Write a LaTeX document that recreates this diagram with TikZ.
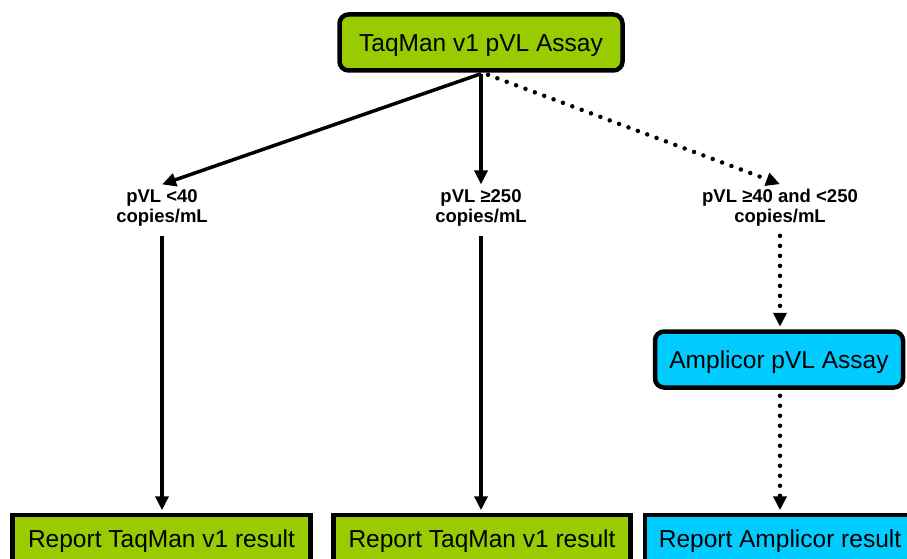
\documentclass[tikz,border=0pt]{standalone}
\usepackage{fontspec}
\setmainfont{Liberation Sans}
\usetikzlibrary{arrows.meta}
\definecolor{tgreen}{HTML}{99CC00}
\definecolor{tcyan}{HTML}{00CCFF}
\begin{document}
\begin{tikzpicture}[x=1pt,y=-1pt,
 rbox/.style={draw=black,line width=4.5pt,rounded corners=9pt,minimum height=56pt,inner sep=0pt,text height=17.5pt,text depth=0pt,font=\fontsize{24.5}{28}\selectfont},
 sbox/.style={draw=black,line width=4.5pt,minimum height=47pt,inner sep=0pt,text height=17.5pt,text depth=0pt,font=\fontsize{24.5}{28}\selectfont},
 lbl/.style={align=center,font=\bfseries\fontsize{18.5}{20}\selectfont,inner sep=0pt},
 arr/.style={line width=3.5pt,-{Triangle[length=14pt,width=13pt]}},
 dots/.style={line width=4.5pt,line cap=round,dash pattern=on 0pt off 10pt,-{Triangle[length=14pt,width=13pt]}},
]
\clip (0,0) rectangle (907,559);
\fill[white] (0,0) rectangle (907,559);
\node[rbox,fill=tgreen,minimum width=283pt] (top) at (481,42.5) {TaqMan v1 pVL Assay};
\node[lbl] (l1) at (162,208) {pVL <40\\copies/mL};
\node[lbl] (l2) at (481,208) {pVL ≥250\\copies/mL};
\node[lbl] (l3) at (780,208) {pVL ≥40 and <250\\copies/mL};
\node[rbox,fill=tcyan,minimum width=248pt] (amp) at (779,359.5) {Amplicor pVL Assay};
\node[sbox,fill=tgreen,minimum width=298pt] (b1) at (161.5,538.5) {Report TaqMan v1 result};
\node[sbox,fill=tgreen,minimum width=297pt] (b2) at (482,538.5) {Report TaqMan v1 result};
\node[sbox,fill=tcyan,minimum width=270pt] (b3) at (780,538.5) {Report Amplicor result};
\coordinate (o) at ([yshift=-1pt]top.south);
\coordinate (t1) at ([yshift=5pt]l1.north);
\coordinate (t2) at ([yshift=5pt]l2.north);
\coordinate (t3) at ([yshift=5pt]l3.north);
\draw[arr] (o) -- (t1);
\draw[arr] (o) -- (t2);
\draw[dots] ([xshift=7pt,yshift=-1pt]o) -- (t3);
\draw[arr] ([yshift=-9pt]l1.south) -- ([yshift=2.5pt]b1.north -| l1.south);
\draw[arr] ([yshift=-9pt]l2.south) -- ([yshift=2.5pt]b2.north -| l2.south);
\draw[dots] ([yshift=-9pt]l3.south) -- ([yshift=2.5pt]amp.north -| l3.south);
\draw[dots] ([yshift=-6pt]amp.south -| l3.south) -- ([yshift=2.5pt]b3.north -| l3.south);
\end{tikzpicture}
\end{document}
